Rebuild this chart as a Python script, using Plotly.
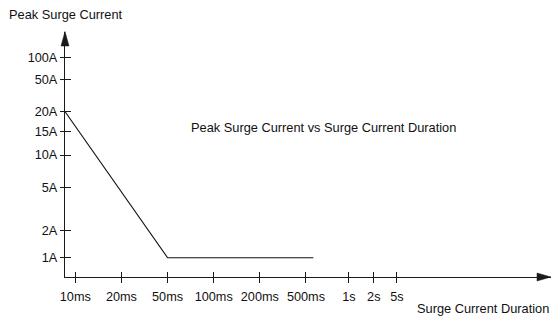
import plotly.graph_objects as go

# ---- data (schematic axis positions) ----
x_tick_labels = ["10ms", "20ms", "50ms", "100ms", "200ms", "500ms", "1s", "2s", "5s"]
x_tick_pos = [0, 1, 2, 3, 4, 5, 5.93, 6.47, 6.97]
y_tick_labels = ["1A", "2A", "5A", "10A", "15A", "20A", "50A", "100A"]
y_tick_pos = [0, 0.27, 0.70, 1.027, 1.26, 1.46, 1.784, 2.004]
curve_x = [-0.22, 2, 5.16]
curve_y = [1.46, 0, 0]

W, H = 551, 316
L, R, T, B = 65, 0, 32, 39
PW, PH = W - L - R, H - T - B

def px(x):
    return (x - L) / PW

def py(y):
    return (H - B - y) / PH

FONT = "Liberation Sans, Arial, Helvetica, sans-serif"
AX = "#1a1a1a"

fig = go.Figure()
fig.add_trace(go.Scatter(x=curve_x, y=curve_y, mode="lines",
                         line=dict(color="#111111", width=1.1),
                         hoverinfo="skip", showlegend=False, cliponaxis=False))
fig.add_trace(go.Scatter(x=[0], y=[0], xaxis="x2", yaxis="y2", mode="markers",
                         marker=dict(opacity=0), hoverinfo="skip", showlegend=False))

xr = [-0.223, 10.31]
yr = [-0.193, 2.257]

fig.update_layout(
    width=W, height=H,
    margin=dict(l=L, r=R, t=T, b=B, pad=0),
    paper_bgcolor="white", plot_bgcolor="white",
    font=dict(family=FONT, size=12.7, color="#111111"),
    xaxis=dict(range=xr, tickmode="array", tickvals=x_tick_pos, ticktext=x_tick_labels,
               ticks="outside", ticklen=5, tickwidth=1, tickcolor=AX,
               showline=True, linecolor=AX, linewidth=1.3,
               showgrid=False, zeroline=False, fixedrange=True,
               ticklabelstandoff=3, tickfont=dict(size=12.7)),
    yaxis=dict(range=yr, tickmode="array", tickvals=y_tick_pos, ticktext=y_tick_labels,
               ticks="outside", ticklen=4, tickwidth=1, tickcolor=AX,
               showline=True, linecolor=AX, linewidth=1.3,
               showgrid=False, zeroline=False, fixedrange=True,
               tickfont=dict(size=12.7)),
    xaxis2=dict(range=xr, overlaying="x", tickmode="array", tickvals=x_tick_pos,
                ticks="inside", ticklen=5, tickwidth=1, tickcolor=AX,
                showticklabels=False, showgrid=False, zeroline=False, showline=False,
                side="bottom", fixedrange=True),
    yaxis2=dict(range=yr, overlaying="y", tickmode="array", tickvals=y_tick_pos,
                ticks="inside", ticklen=6, tickwidth=1, tickcolor=AX,
                showticklabels=False, showgrid=False, zeroline=False, showline=False,
                side="left", fixedrange=True),
    showlegend=False,
)

# arrowheads (pixel-sized, anchored at the axis ends)
fig.add_shape(type="path", xref="paper", yref="paper",
              xsizemode="pixel", ysizemode="pixel", xanchor=0, yanchor=1,
              path="M 0 0.5 L -4 -14 L 4 -14 Z",
              fillcolor=AX, line=dict(color=AX, width=0.5), layer="above")
fig.add_shape(type="path", xref="paper", yref="paper",
              xsizemode="pixel", ysizemode="pixel", xanchor=1, yanchor=0,
              path="M 0 0 L -14 4 L -14 -4 Z",
              fillcolor=AX, line=dict(color=AX, width=0.5), layer="above")

fig.add_annotation(text="Peak Surge Current", xref="paper", yref="paper",
                   x=px(7), y=py(14), xanchor="left", yanchor="middle",
                   showarrow=False, font=dict(size=12.8))
fig.add_annotation(text="Peak Surge Current vs Surge Current Duration", xref="paper", yref="paper",
                   x=px(189), y=py(127), xanchor="left", yanchor="middle",
                   showarrow=False, font=dict(size=12.8))
fig.add_annotation(text="Surge Current Duration", xref="paper", yref="paper",
                   x=px(551), y=py(308.5), xanchor="right", yanchor="middle",
                   showarrow=False, font=dict(size=12.8))

fig.write_html("out.html", config={"displayModeBar": False},
               post_script="document.body.style.margin='0';document.body.style.overflow='hidden';")
